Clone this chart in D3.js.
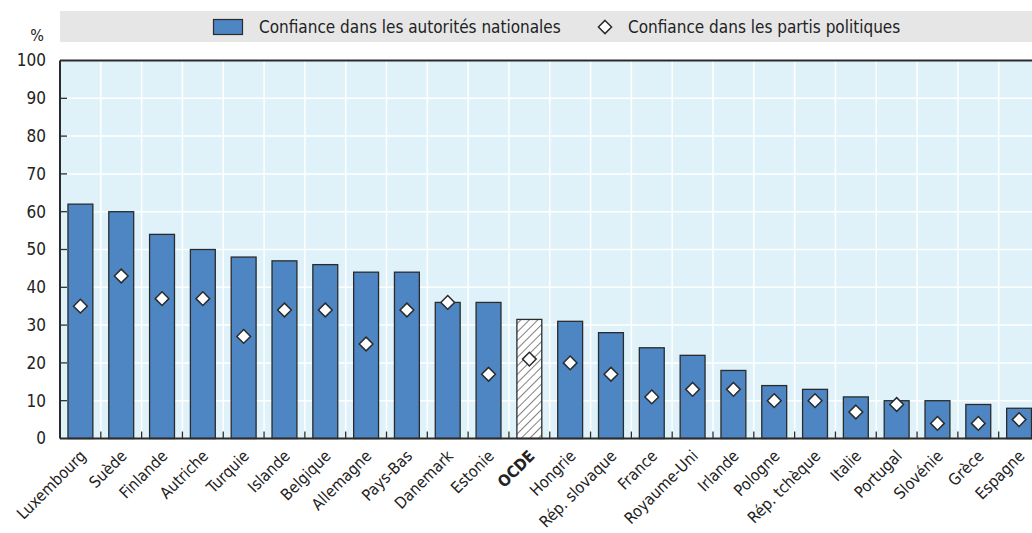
<!DOCTYPE html>
<html><head><meta charset="utf-8">
<script src="https://cdn.jsdelivr.net/npm/d3@7"></script>
<style>
html,body{margin:0;padding:0;background:#fff;overflow:hidden;}
text{font-family:"Liberation Sans Narrow","DejaVu Sans Condensed","Arial Narrow",sans-serif;fill:#222;}
</style></head><body>
<svg id="c" width="1032" height="533"></svg>
<script>
const categories = ["Luxembourg","Suède","Finlande","Autriche","Turquie","Islande","Belgique","Allemagne","Pays-Bas","Danemark","Estonie","OCDE","Hongrie","Rép. slovaque","France","Royaume-Uni","Irlande","Pologne","Rép. tchèque","Italie","Portugal","Slovénie","Grèce","Espagne"];
const authorities = [62,60,54,50,48,47,46,44,44,36,36,31.5,31,28,24,22,18,14,13,11,10,10,9,8];
const parties = [35,43,37,37,27,34,34,25,34,36,17,21,20,17,11,13,13,10,10,7,9,4,4,5];
const yTicks = [0,10,20,30,40,50,60,70,80,90,100];
const seriesNames = ["Confiance dans les autorités nationales","Confiance dans les partis politiques"];
const highlight = "OCDE";

(function(){
const svg = d3.select("#c");
const pL = 60, pR = 1039.5, pT = 60.5, pB = 438.5;
const blue = "#4e86c4", dark = "#2b2b2b", bg = "#dff2f9";

const x = d3.scaleBand().domain(categories).range([pL, pR]).paddingInner(0.39).paddingOuter(0.195);
const y = d3.scaleLinear().domain([0,100]).range([pB, pT]);
const step = x.step();

const defs = svg.append("defs");
const pat = defs.append("pattern").attr("id","hatch").attr("patternUnits","userSpaceOnUse")
  .attr("width",6).attr("height",6).attr("patternTransform","rotate(45)");
pat.append("rect").attr("width",6).attr("height",6).attr("fill","#fff");
pat.append("line").attr("x1",0).attr("y1",0).attr("x2",0).attr("y2",6).attr("stroke",dark).attr("stroke-width",1.2);

const diamondType = d3.symbolDiamond2 || d3.symbolDiamond;

// legend band
svg.append("rect").attr("x",60).attr("y",11).attr("width",980).attr("height",31).attr("fill","#e6e6e7");
svg.append("rect").attr("x",213.5).attr("y",19.5).attr("width",29).attr("height",15).attr("fill",blue).attr("stroke",dark).attr("stroke-width",1.2);
svg.append("text").attr("x",259).attr("y",33).attr("font-size",17).text(seriesNames[0]);
svg.append("path").attr("d",d3.symbol().type(diamondType).size(110)()).attr("transform","translate(605,27)")
  .attr("fill","#fff").attr("stroke",dark).attr("stroke-width",1.5);
svg.append("text").attr("x",628).attr("y",33).attr("font-size",17).text(seriesNames[1]);

svg.append("text").attr("x",44).attr("y",41).attr("text-anchor","end").attr("font-size",16).text("%");

svg.append("rect").attr("x",pL).attr("y",pT).attr("width",pR-pL).attr("height",pB-pT).attr("fill",bg);

svg.append("g").selectAll("line").data(yTicks.filter(d=>d>0&&d<100)).join("line")
  .attr("x1",pL).attr("x2",pR).attr("y1",d=>y(d)).attr("y2",d=>y(d))
  .attr("stroke","#fff").attr("stroke-width",1.5);
const bounds = categories.slice(1).map(c=>x(c) - (step - x.bandwidth())/2);
svg.append("g").selectAll("line").data(bounds).join("line")
  .attr("x1",d=>d).attr("x2",d=>d).attr("y1",pT).attr("y2",pB)
  .attr("stroke","#fff").attr("stroke-width",1.5);

svg.append("g").selectAll("rect").data(categories).join("rect")
  .attr("x",d=>x(d)).attr("width",x.bandwidth())
  .attr("y",(d,i)=>y(authorities[i])).attr("height",(d,i)=>pB-y(authorities[i]))
  .attr("fill",d=>d===highlight?"url(#hatch)":blue)
  .attr("stroke",dark).attr("stroke-width",1.3);

svg.append("g").selectAll("line").data(bounds).join("line")
  .attr("x1",d=>d).attr("x2",d=>d).attr("y1",pB).attr("y2",pB-7)
  .attr("stroke",dark).attr("stroke-width",1.3);

const diamond = d3.symbol().type(diamondType).size(120)();
svg.append("g").selectAll("path").data(categories).join("path")
  .attr("d",diamond)
  .attr("transform",(d,i)=>`translate(${x(d)+x.bandwidth()/2},${y(parties[i])})`)
  .attr("fill","#fff").attr("stroke",dark).attr("stroke-width",1.5);

const yAxis = d3.axisLeft(y).tickValues(yTicks).tickSize(0).tickPadding(14);
const ga = svg.append("g").attr("transform",`translate(${pL},0)`).call(yAxis);
ga.select(".domain").remove();
ga.selectAll("text").attr("font-size",17).attr("font-family",null).attr("fill","#222");
svg.append("g").selectAll("line").data(yTicks.filter(d=>d>0&&d<100)).join("line")
  .attr("x1",pL).attr("x2",pL+7).attr("y1",d=>y(d)).attr("y2",d=>y(d))
  .attr("stroke",dark).attr("stroke-width",1.3);

svg.append("line").attr("x1",pL).attr("x2",pR).attr("y1",pT).attr("y2",pT).attr("stroke",dark).attr("stroke-width",2);
svg.append("line").attr("x1",pL).attr("x2",pL).attr("y1",pT).attr("y2",pB).attr("stroke",dark).attr("stroke-width",2);
svg.append("line").attr("x1",pL).attr("x2",pR).attr("y1",pB).attr("y2",pB).attr("stroke",dark).attr("stroke-width",2);

const xAxis = d3.axisBottom(x).tickSize(0).tickPadding(0);
const gx = svg.append("g").attr("transform",`translate(0,${pB})`).call(xAxis);
gx.select(".domain").remove();
gx.selectAll("text")
  .attr("font-size",16).attr("font-family",null).attr("fill","#222")
  .attr("text-anchor","end").attr("dy",null).attr("y",0)
  .attr("transform","translate(-2,10) rotate(-45)")
  .attr("font-weight",d=>d===highlight?"bold":null)
  .attr("dominant-baseline","hanging");
})();
</script>
</body></html>
